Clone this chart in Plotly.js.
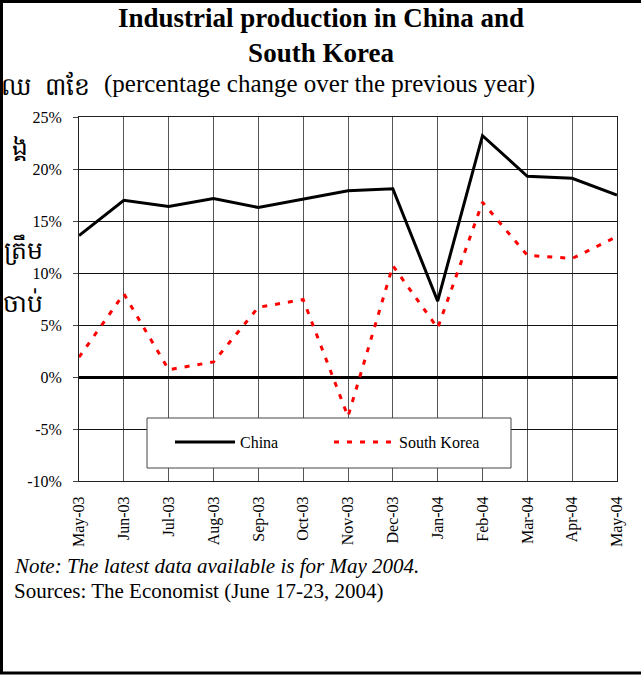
<!DOCTYPE html>
<html>
<head>
<meta charset="utf-8">
<script src="https://cdn.plot.ly/plotly-3.0.1.min.js"></script>
<style>html,body{margin:0;padding:0;background:#fff;}#chart{width:641px;height:675px;}</style>
</head>
<body>
<div id="chart"></div>
<script>
// ---- data ----
const months = ['May-03','Jun-03','Jul-03','Aug-03','Sep-03','Oct-03','Nov-03','Dec-03','Jan-04','Feb-04','Mar-04','Apr-04','May-04'];
const china = [13.6, 17.0, 16.4, 17.15, 16.3, 17.1, 17.9, 18.1, 7.3, 23.2, 19.3, 19.1, 17.5];
const southKorea = [1.9, 8.0, 0.7, 1.45, 6.7, 7.45, -3.8, 10.7, 4.7, 16.8, 11.7, 11.4, 13.5];
const yTickVals = [-10, -5, 0, 5, 10, 15, 20, 25];
const yTickLabels = ['-10%', '-5%', '0%', '5%', '10%', '15%', '20%', '25%'];
const titleText = 'Industrial production in China and<br>South Korea';
const subtitleText = '(percentage change over the previous year)';
const noteText = 'Note: The latest data available is for May 2004.';
const sourceText = 'Sources: The Economist (June 17-23, 2004)';
const khmerFragments = ['ឈ  ៣ខែ', 'ង្គ', 'ត្រឹម', 'ចាប់'];

// ---- geometry helpers (pixel -> paper) ----
const W = 641, H = 675;
const L = 79, R = 617, T = 117, B = 481;
const px = v => (v - L) / (R - L);
const py = v => (B - v) / (B - T);
const serif = '"Liberation Serif", "Times New Roman", serif';

const traces = [
  {x: months, y: china, name: 'China', type: 'scatter', mode: 'lines',
   line: {color: '#000000', width: 3}},
  {x: months, y: southKorea, name: 'South Korea', type: 'scatter', mode: 'lines',
   line: {color: '#ff0000', width: 3, dash: '5px,8px'}}
];

const khmerAnno = (text, right, cy) => ({
  text: text, xref: 'paper', yref: 'paper', x: px(right), y: py(cy), xanchor: 'right', yanchor: 'middle',
  showarrow: false, font: {size: 25, color: '#000'}
});

const layout = {
  width: W, height: H,
  margin: {l: L, r: W - R, t: T, b: H - B, pad: 0},
  paper_bgcolor: '#ffffff', plot_bgcolor: '#ffffff',
  font: {family: serif, color: '#000000', size: 16},
  showlegend: true,
  title: {text: titleText, font: {family: serif, size: 27, color: '#000', weight: 'bold'},
          x: px(321), xref: 'paper', xanchor: 'center', y: 1 - 27 / H, yref: 'container', yanchor: 'top'},
  xaxis: {
    type: 'category', range: [0, months.length - 1],
    showgrid: true, gridcolor: '#555555', gridwidth: 1,
    showline: true, linecolor: '#222222', linewidth: 1, mirror: true,
    ticks: '', tickangle: -90, ticklabelstandoff: 8,
    tickfont: {family: serif, size: 16, color: '#000'}
  },
  xaxis2: {
    type: 'category', range: [0, months.length - 1], overlaying: 'x', anchor: 'free',
    position: 10 / 35, side: 'bottom',
    showgrid: false, showline: false, zeroline: false,
    ticks: 'outside', ticklen: 5, tickwidth: 2, tickcolor: '#000',
    showticklabels: false, tickvals: months
  },
  yaxis: {
    range: [-10, 25], tickvals: yTickVals, ticktext: yTickLabels,
    showgrid: true, gridcolor: '#111111', gridwidth: 1,
    zeroline: true, zerolinecolor: '#000000', zerolinewidth: 3,
    showline: true, linecolor: '#222222', linewidth: 1, mirror: true,
    ticks: 'outside', ticklen: 5, tickcolor: '#444', ticklabelstandoff: 8,
    tickfont: {family: serif, size: 16, color: '#000'}
  },
  legend: {
    orientation: 'h', x: px(170), y: py(425), xanchor: 'left', yanchor: 'top',
    bgcolor: 'rgba(0,0,0,0)', borderwidth: 0,
    font: {family: serif, size: 16, color: '#000'},
    itemwidth: 60, entrywidth: 84, entrywidthmode: 'pixels'
  },
  annotations: [
    {text: subtitleText, xref: 'paper', yref: 'paper', x: px(319), y: py(94), xanchor: 'center', yanchor: 'bottom',
     yshift: -6, showarrow: false, font: {family: serif, size: 25, color: '#000'}},
    {text: noteText, xref: 'paper', yref: 'paper', x: px(12), y: py(575), xanchor: 'left', yanchor: 'bottom',
     yshift: -5, showarrow: false, font: {family: serif, size: 21, color: '#000', style: 'italic'}},
    {text: sourceText, xref: 'paper', yref: 'paper', x: px(12), y: py(600), xanchor: 'left', yanchor: 'bottom',
     yshift: -5, showarrow: false, font: {family: serif, size: 21, color: '#000'}},
    khmerAnno(khmerFragments[0], 92, 85),
    khmerAnno(khmerFragments[1], 30, 147),
    khmerAnno(khmerFragments[2], 45, 250),
    khmerAnno(khmerFragments[3], 45, 302)
  ],
  shapes: [
    // legend box
    {type: 'rect', xref: 'paper', yref: 'paper', x0: px(147), x1: px(511), y0: py(418), y1: py(468),
     line: {color: '#444444', width: 1}, fillcolor: '#ffffff', layer: 'above'},
    // outer frame
    {type: 'rect', xref: 'paper', yref: 'paper', x0: px(1.5), x1: px(660), y0: py(1.5), y1: py(673),
     line: {color: '#000', width: 3}, fillcolor: 'rgba(0,0,0,0)', layer: 'above'}
  ]
};

Plotly.newPlot('chart', traces, layout, {displayModeBar: false, staticPlot: true});
</script>
</body>
</html>
